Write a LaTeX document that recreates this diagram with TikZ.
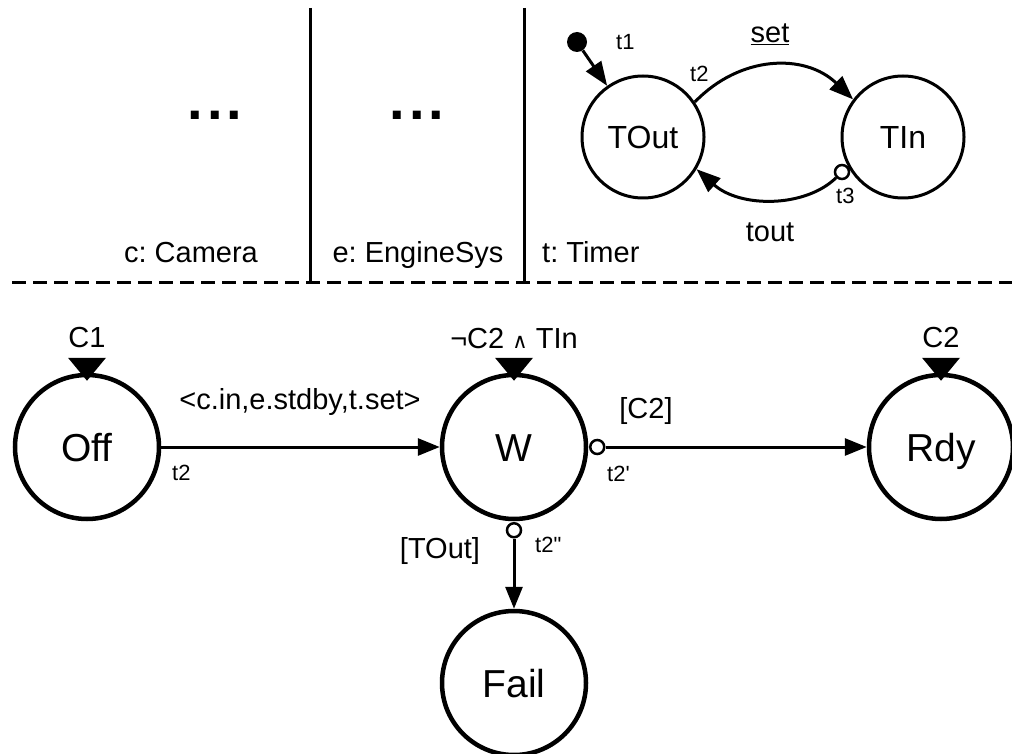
\documentclass[tikz,border=0pt]{standalone}
\usepackage{fontspec}
\setmainfont{Liberation Sans}
\newfontfamily\symfont{DejaVu Sans}
\usetikzlibrary{arrows.meta,calc}
\frenchspacing
\begin{document}
\begin{tikzpicture}[x=1pt,y=-1pt,
  state/.style={circle,draw,line width=4.5pt,minimum size=144pt,inner sep=0pt,font=\fontsize{39}{39}\selectfont,text height=28pt,text depth=0pt},
  tstate/.style={circle,draw,line width=3pt,minimum size=122pt,inner sep=0pt,font=\fontsize{32}{32}\selectfont,text height=23pt,text depth=0pt},
  lbl/.style={font=\fontsize{29}{29}\selectfont,inner sep=0pt,anchor=base},
  smalllbl/.style={font=\fontsize{22}{22}\selectfont,inner sep=0pt,anchor=base west},
  conn/.style={line width=3pt,-{Triangle[length=22pt,width=17pt]}},
  tconn/.style={line width=3pt,-{Triangle[length=24pt,width=18pt]}},
  marker/.style={circle,draw,fill=white,line width=2.5pt,minimum size=14pt,inner sep=0pt},
  sep/.style={line width=3pt},
  dashsep/.style={line width=3pt,dash pattern=on 14pt off 7pt},
  dotsstyle/.style={inner sep=0pt,anchor=base,font=\fontsize{56}{56}\selectfont\bfseries}
]
\useasboundingbox (0,0) rectangle (1012,754);

% separators
\coordinate (v1t) at (310,8);
\coordinate (v1b) at (310,282);
\coordinate (v2t) at (524,8);
\coordinate (v2b) at (524,282);
\coordinate (dl) at (12,282);
\coordinate (dr) at (1012,282);
\draw[dashsep] (dl) -- (dr);
\draw[sep] (v1t) -- (v1b);
\draw[sep] (v2t) -- (v2b);

% component labels
\node[lbl] (cam) at (191,262) {c: Camera};
\node[lbl] (eng) at (418,262) {e: EngineSys};
\node[lbl,anchor=base west] (tim) at (542,262) {t: Timer};
\node[dotsstyle] (dots1) at (215,120) {.\kern4pt.\kern4pt.};
\node[dotsstyle] (dots2) at (417,120) {.\kern4pt.\kern4pt.};

% timer
\node[tstate] (TOut) at (643,137) {TOut};
\node[tstate] (TIn) at (903,137) {TIn};
\node[circle,fill=black,minimum size=20pt,inner sep=0pt] (init) at (577,42) {};
\draw[tconn] (init) -- (TOut.125);
\node[smalllbl] (t1) at (616,50) {t1};
\draw[tconn] (TOut.34) .. controls (740,55) and (805,53) .. (TIn.143);
\node[lbl] (set) at (770,43) {\underline{set}};
\node[smalllbl] (t2top) at (690,82) {t2};
\node[marker] (m3) at (842,172) {};
\draw[tconn] (m3) .. controls (805,208) and (740,208) .. (TOut.-31);
\node[smalllbl] (t3) at (836,204) {t3};
\node[lbl] (tout) at (770,242) {tout};

% main states
\node[state] (Off) at (87,447) {Off};
\node[state] (W) at (514,447) {W};
\node[state] (Rdy) at (941,447) {Rdy};
\node[state] (Fail) at (514,683) {Fail};

% state invariants
\foreach \s in {Off,W,Rdy}{
  \fill ($(\s.north)+(-19,-15)$) -- ($(\s.north)+(19,-15)$) -- ($(\s.north)+(0,8)$) -- cycle;
}
\node[lbl] (c1) at (87,347) {C1};
\node[lbl] (c2) at (941,347) {C2};
\node[lbl] (winv) at (514,348) {¬C2 {\symfont\fontsize{21}{21}\selectfont ∧} TIn};

% transitions
\draw[conn] (Off.east) -- (W.west);
\node[lbl] (act) at (300,409) {<c.in,e.stdby,t.set>};
\node[smalllbl] (t2a) at (172,480) {t2};

\node[marker] (m1) at ($(W.east)+(9,0)$) {};
\draw[conn] (m1) -- (Rdy.west);
\node[lbl] (gc2) at (646,418) {[C2]};
\node[smalllbl] (t2b) at (607,481) {t2\textquotesingle};

\node[marker] (m2) at ($(W.south)+(0,9)$) {};
\draw[conn] (m2) -- (Fail.north);
\node[lbl] (gto) at (440,558) {[TOut]};
\node[smalllbl] (t2c) at (535,552) {t2\textquotedbl};
\end{tikzpicture}
\end{document}
